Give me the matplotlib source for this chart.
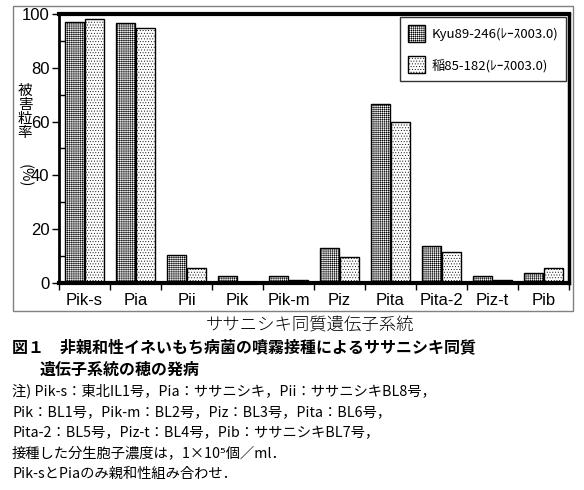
import matplotlib
matplotlib.use("Agg")
import matplotlib.pyplot as plt
import numpy as np
from matplotlib.patches import Rectangle, Patch

plt.rcParams['font.family'] = ['Liberation Sans', 'Noto Sans CJK JP', 'DejaVu Sans']
plt.rcParams['hatch.linewidth'] = 0.35

categories = ["Pik-s", "Pia", "Pii", "Pik", "Pik-m", "Piz", "Pita", "Pita-2", "Piz-t", "Pib"]
kyu = [97.1, 96.5, 10.3, 2.6, 2.6, 12.9, 66.4, 13.6, 2.5, 3.6]
ine = [98.0, 94.7, 5.6, 0.2, 1.1, 9.6, 59.7, 11.4, 1.0, 5.6]
series_names = ["Kyu89-246(ﾚｰｽ003.0)", "稲85-182(ﾚｰｽ003.0)"]
yticks = [0, 20, 40, 60, 80, 100]

JP = ['Noto Sans CJK JP', 'DejaVu Sans']
H_KYU = '++++++++'
H_INE = '......'

fig = plt.figure(figsize=(5.84, 4.90), dpi=100)
W, H = 584, 490
ax = fig.add_axes([59 / W, 1 - 283 / H, (569 - 59) / W, (283 - 14) / H])

x = np.arange(len(categories)) + 0.5
bw = 0.37
ax.bar(x - bw / 2 - 0.01, kyu, bw, facecolor='white', edgecolor='black', hatch=H_KYU, linewidth=1.0, zorder=2)
ax.bar(x + bw / 2 + 0.01, ine, bw, facecolor='white', edgecolor='black', hatch=H_INE, linewidth=1.0, zorder=2)

ax.set_xlim(0, len(categories))
ax.set_ylim(0, 100)

ax.set_xticks(np.arange(len(categories) + 1))
ax.set_xticklabels([])
ax.set_xticks(x, minor=True)
ax.set_xticklabels(categories, minor=True, fontsize=12)
ax.tick_params(axis='x', which='major', direction='out', length=5, width=1)
ax.tick_params(axis='x', which='minor', length=0, pad=7)

ax.set_yticks(yticks)
ax.set_yticklabels([str(v) for v in yticks], fontsize=12)
ax.set_yticks(np.arange(10, 100, 20), minor=True)
ax.tick_params(axis='y', which='major', direction='out', length=5, width=1, pad=2)
ax.tick_params(axis='y', which='minor', direction='in', length=4, width=1)

for side, lw in [('left', 2), ('bottom', 3), ('top', 3), ('right', 2.5)]:
    ax.spines[side].set_linewidth(lw)

handles = [Patch(facecolor='white', edgecolor='black', hatch=H_KYU, linewidth=1.0),
           Patch(facecolor='white', edgecolor='black', hatch=H_INE, linewidth=1.0)]
leg = ax.legend(handles, series_names, loc='upper left', bbox_to_anchor=(400 / W, 1 - 17 / H),
                bbox_transform=fig.transFigure, borderaxespad=0, fancybox=False,
                handlelength=1.3, handleheight=1.6, handletextpad=0.5, labelspacing=1.1,
                borderpad=0.6, prop={'family': JP, 'size': 9.5})
leg.get_frame().set_edgecolor('black')
leg.get_frame().set_linewidth(1.0)

fig.patches.append(Rectangle((13 / W, 1 - 311 / H), (573 - 13) / W, (311 - 6) / H,
                             transform=fig.transFigure, fill=False, edgecolor='#808080',
                             linewidth=1.0))

fig.text(25 / W, 1 - 112 / H, "被\n害\n粒\n率", family=JP, fontsize=10.5, ha='center', va='center',
         linespacing=1.0)
fig.text(25 / W, 1 - 176 / H, "(%)", family=JP, fontsize=10.5, ha='center', va='center', rotation=-90)

fig.text(310 / W, 1 - 325 / H, "ササニシキ同質遺伝子系統", family=JP, fontsize=12.5,
         ha='center', va='center', fontweight='light')

fig.text(12 / W, 1 - 347 / H, "図１　非親和性イネいもち病菌の噴霧接種によるササニシキ同質",
         family=JP, fontsize=11.5, fontweight='bold', ha='left', va='center')
fig.text(40 / W, 1 - 370 / H, "遺伝子系統の穂の発病",
         family=JP, fontsize=11.5, fontweight='bold', ha='left', va='center')

notes = [
    "注) Pik-s：東北IL1号，Pia：ササニシキ，Pii：ササニシキBL8号，",
    "Pik：BL1号，Pik-m：BL2号，Piz：BL3号，Pita：BL6号，",
    "Pita-2：BL5号，Piz-t：BL4号，Pib：ササニシキBL7号，",
    "接種した分生胞子濃度は，1×10⁵個／ml．",
    "Pik-sとPiaのみ親和性組み合わせ．",
]
ys = [391, 412, 433, 453, 474]
for t, yy in zip(notes, ys):
    fig.text(12 / W, 1 - yy / H, t, family=JP, fontsize=10.3, ha='left', va='center')

fig.savefig("out.png", dpi=100)
